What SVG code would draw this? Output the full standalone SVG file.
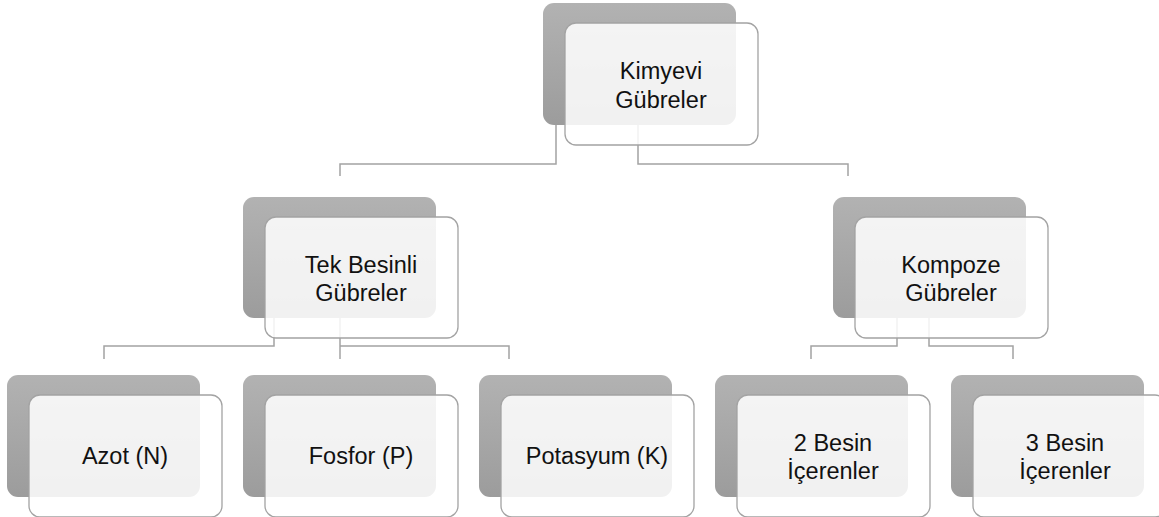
<svg xmlns="http://www.w3.org/2000/svg" width="1159" height="517" viewBox="0 0 1159 517">
<defs>
<linearGradient id="g" x1="0" y1="0" x2="0" y2="1">
<stop offset="0" stop-color="#b2b2b2"/>
<stop offset="1" stop-color="#9c9c9c"/>
</linearGradient>
<style>
.back{fill:url(#g);}
.front{fill:#ffffff;fill-opacity:0.86;stroke:#a3a3a3;stroke-width:1.3;}
.c{fill:none;stroke:#a3a3a3;stroke-width:1.5;}
text{font-family:"Liberation Sans",Arial,sans-serif;font-size:23.5px;fill:#111;text-anchor:middle;}
</style>
</defs>
<rect width="1159" height="517" fill="#ffffff"/>
<g id="connectors">
<path class="c" d="M556,125 V164 H340 V176"/>
<path class="c" d="M638,125 V164 H848 V176"/>
<path class="c" d="M274,318 V346 H104 V359"/>
<path class="c" d="M340,318 V359"/>
<path class="c" d="M340,346 H509 V359"/>
<path class="c" d="M897,318 V346 H811 V359"/>
<path class="c" d="M929,318 V346 H1013 V359"/>
</g>
<g id="n-kimyevi">
<rect class="back" x="543" y="3" width="193" height="122" rx="11"/>
<rect class="front" x="565" y="23" width="193" height="122" rx="11"/>
<text x="661" y="79">Kimyevi</text>
<text x="661" y="108">Gübreler</text>
</g>
<g id="n-tek">
<rect class="back" x="243" y="197" width="193" height="121" rx="11"/>
<rect class="front" x="265" y="217" width="193" height="121" rx="11"/>
<text x="361" y="273">Tek Besinli</text>
<text x="361" y="301">Gübreler</text>
</g>
<g id="n-kompoze">
<rect class="back" x="833" y="197" width="193" height="121" rx="11"/>
<rect class="front" x="855" y="217" width="193" height="121" rx="11"/>
<text x="951" y="273">Kompoze</text>
<text x="951" y="301">Gübreler</text>
</g>
<g id="n-azot">
<rect class="back" x="7" y="375" width="193" height="122" rx="11"/>
<rect class="front" x="29" y="395" width="193" height="122" rx="11"/>
<text x="125" y="464">Azot (N)</text>
</g>
<g id="n-fosfor">
<rect class="back" x="243" y="375" width="193" height="122" rx="11"/>
<rect class="front" x="265" y="395" width="193" height="122" rx="11"/>
<text x="361" y="464">Fosfor (P)</text>
</g>
<g id="n-potasyum">
<rect class="back" x="479" y="375" width="193" height="122" rx="11"/>
<rect class="front" x="501" y="395" width="193" height="122" rx="11"/>
<text x="597" y="464">Potasyum (K)</text>
</g>
<g id="n-2besin">
<rect class="back" x="715" y="375" width="193" height="122" rx="11"/>
<rect class="front" x="737" y="395" width="193" height="122" rx="11"/>
<text x="833" y="451">2 Besin</text>
<text x="833" y="479">İçerenler</text>
</g>
<g id="n-3besin">
<rect class="back" x="951" y="375" width="193" height="122" rx="11"/>
<rect class="front" x="973" y="395" width="193" height="122" rx="11"/>
<text x="1065" y="451">3 Besin</text>
<text x="1065" y="479">İçerenler</text>
</g>
</svg>
